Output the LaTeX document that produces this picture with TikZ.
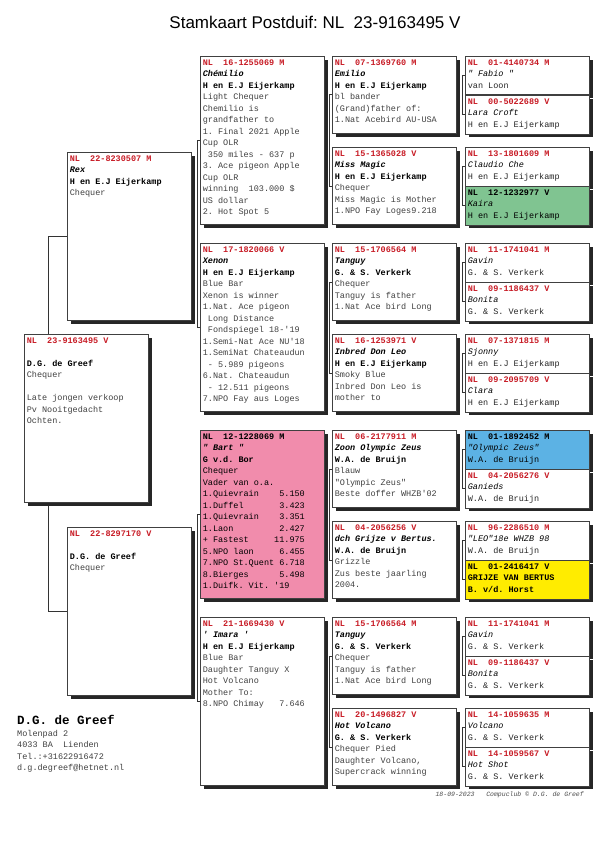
\documentclass[tikz,border=0pt]{standalone}
\usepackage{fontspec}
\setmainfont{Liberation Serif}
\setsansfont{Liberation Sans}
\setmonofont{Liberation Mono}
\usepackage{tikz}
\usetikzlibrary{positioning, shadows, backgrounds}

\definecolor{nlred}{RGB}{200,28,38}
\definecolor{bartpink}{RGB}{241,140,172}
\definecolor{kairagreen}{RGB}{128,196,145}
\definecolor{zeusblue}{RGB}{92,178,228}
\definecolor{bertusyellow}{RGB}{255,236,0}

\newcommand{\ringnr}[1]{\textbf{\color{nlred}#1}}
\newcommand{\ringnrk}[1]{\textbf{\color{black}#1}}
\newcommand{\pname}[1]{\textbf{\textit{\color{black}#1}}}
\newcommand{\cname}[1]{\textit{\color{black}#1}}
\newcommand{\breeder}[1]{\textbf{\color{black}#1}}
\frenchspacing

\begin{document}
\begin{tikzpicture}[x=1pt, y=-1pt,
  font=\ttfamily\fontsize{8.5}{11.5}\selectfont,
  card/.style={draw=black!75, line width=0.6pt, fill=white, anchor=north west,
    text width=119pt, align=flush left, inner sep=2.5pt, text height=6.5pt,
    text=black!75, execute at begin node={\spaceskip=0pt\xspaceskip=0pt},
    general shadow={fill=black!85, shadow xshift=3.5pt, shadow yshift=-3.5pt}},
  tall/.style={card, text depth=156.5pt},
  mid/.style={card, text depth=65.5pt},
  cell/.style={card, text depth=27pt, text=black!85},
  link/.style={draw=black!80, line width=0.6pt},
]
  \useasboundingbox (0,0) rectangle (600,848);

  % Title
  \node[anchor=base, font=\sffamily\fontsize{17}{20}\selectfont] (title) at (315,29)
    {Stamkaart Postduif: NL~~23-9163495 V};

  % Generation 1: the pigeon itself
  \node[tall] (sub) at (24,334) {\ringnr{NL~~23-9163495 V}\\[11.5pt]
    \breeder{D.G. de Greef}\\ Chequer\\[11.5pt]
    Late jongen verkoop\\ Pv Nooitgedacht\\ Ochten.};

  % Generation 2: parents
  \node[tall] (sire) at (67,152) {\ringnr{NL~~22-8230507 M}\\ \pname{Rex}\\
    \breeder{H en E.J Eijerkamp}\\ Chequer};
  \node[tall] (dam) at (67,527) {\ringnr{NL~~22-8297170 V}\\[11.5pt]
    \breeder{D.G. de Greef}\\ Chequer};

  % Generation 3: grandparents
  \node[tall] (ss) at (200,56) {\ringnr{NL~~16-1255069 M}\\ \pname{Chémilio}\\
    \breeder{H en E.J Eijerkamp}\\ Light Chequer\\ Chemilio is\\ grandfather to\\
    1. Final 2021 Apple\\ Cup OLR\\ ~350 miles - 637 p\\ 3. Ace pigeon Apple\\
    Cup OLR\\ winning~~103.000 \$\\ US dollar\\ 2. Hot Spot 5};
  \node[tall] (sd) at (200,243) {\ringnr{NL~~17-1820066 V}\\ \pname{Xenon}\\
    \breeder{H en E.J Eijerkamp}\\ Blue Bar\\ Xenon is winner\\ 1.Nat. Ace pigeon\\
    ~Long Distance\\ ~Fondspiegel 18-'19\\ 1.Semi-Nat Ace NU'18\\
    1.SemiNat Chateaudun\\ ~- 5.989 pigeons\\ 6.Nat. Chateaudun\\
    ~- 12.511 pigeons\\ 7.NPO Fay aus Loges};
  \node[tall, fill=bartpink, text=black] (ds) at (200,430) {\ringnrk{NL~~12-1228069 M}\\
    \pname{" Bart "}\\ \breeder{G v.d. Bor}\\ Chequer\\ Vader van o.a.\\
    1.Quievrain~~~~5.150\\ 1.Duffel~~~~~~~3.423\\ 1.Quievrain~~~~3.351\\
    1.Laon~~~~~~~~~2.427\\ + Fastest~~~~~11.975\\ 5.NPO laon~~~~~6.455\\
    7.NPO St.Quent 6.718\\ 8.Bierges~~~~~~5.498\\ 1.Duifk. Vit. '19};
  \node[tall] (dd) at (200,617) {\ringnr{NL~~21-1669430 V}\\ \pname{' Imara '}\\
    \breeder{H en E.J Eijerkamp}\\ Blue Bar\\ Daughter Tanguy X\\ Hot Volcano\\
    Mother To:\\ 8.NPO Chimay~~~7.646};

  % Generation 4: great-grandparents
  \node[mid] (sss) at (332,56) {\ringnr{NL~~07-1369760 M}\\ \pname{Emilio}\\
    \breeder{H en E.J Eijerkamp}\\ bl bander\\ (Grand)father of:\\ 1.Nat Acebird AU-USA};
  \node[mid] (ssd) at (332,147) {\ringnr{NL~~15-1365028 V}\\ \pname{Miss Magic}\\
    \breeder{H en E.J Eijerkamp}\\ Chequer\\ Miss Magic is Mother\\ 1.NPO Fay Loges9.218};
  \node[mid] (sds) at (332,243) {\ringnr{NL~~15-1706564 M}\\ \pname{Tanguy}\\
    \breeder{G. \& S. Verkerk}\\ Chequer\\ Tanguy is father\\ 1.Nat Ace bird Long};
  \node[mid] (sdd) at (332,334) {\ringnr{NL~~16-1253971 V}\\ \pname{Inbred Don Leo}\\
    \breeder{H en E.J Eijerkamp}\\ Smoky Blue\\ Inbred Don Leo is\\ mother to};
  \node[mid] (dss) at (332,430) {\ringnr{NL~~06-2177911 M}\\ \pname{Zoon Olympic Zeus}\\
    \breeder{W.A. de Bruijn}\\ Blauw\\ "Olympic Zeus"\\ Beste doffer WHZB'02};
  \node[mid] (dsd) at (332,521) {\ringnr{NL~~04-2056256 V}\\ \pname{dch Grijze v Bertus.}\\
    \breeder{W.A. de Bruijn}\\ Grizzle\\ Zus beste jaarling\\ 2004.};
  \node[mid] (dds) at (332,617) {\ringnr{NL~~15-1706564 M}\\ \pname{Tanguy}\\
    \breeder{G. \& S. Verkerk}\\ Chequer\\ Tanguy is father\\ 1.Nat Ace bird Long};
  \node[mid] (ddd) at (332,708) {\ringnr{NL~~20-1496827 V}\\ \pname{Hot Volcano}\\
    \breeder{G. \& S. Verkerk}\\ Chequer Pied\\ Daughter Volcano,\\ Supercrack winning};

  % Generation 5: great-great-grandparents
  \node[cell] (ssss) at (465,56) {\ringnr{NL~~01-4140734 M}\\ \cname{" Fabio "}\\ van Loon};
  \node[cell, below=0pt of ssss] (sssd) {\ringnr{NL~~00-5022689 V}\\ \cname{Lara Croft}\\ H en E.J Eijerkamp};
  \node[cell] (ssds) at (465,147) {\ringnr{NL~~13-1801609 M}\\ \cname{Claudio Che}\\ H en E.J Eijerkamp};
  \node[cell, below=0pt of ssds, fill=kairagreen, text=black] (ssdd) {\ringnrk{NL~~12-1232977 V}\\ \cname{Kaira}\\ H en E.J Eijerkamp};
  \node[cell] (sdss) at (465,243) {\ringnr{NL~~11-1741041 M}\\ \cname{Gavin}\\ G. \& S. Verkerk};
  \node[cell, below=0pt of sdss] (sdsd) {\ringnr{NL~~09-1186437 V}\\ \cname{Bonita}\\ G. \& S. Verkerk};
  \node[cell] (sdds) at (465,334) {\ringnr{NL~~07-1371815 M}\\ \cname{Sjonny}\\ H en E.J Eijerkamp};
  \node[cell, below=0pt of sdds] (sddd) {\ringnr{NL~~09-2095709 V}\\ \cname{Clara}\\ H en E.J Eijerkamp};
  \node[cell, fill=zeusblue, text=black] (dsss) at (465,430) {\ringnrk{NL~~01-1892452 M}\\ \cname{"Olympic Zeus"}\\ W.A. de Bruijn};
  \node[cell, below=0pt of dsss] (dssd) {\ringnr{NL~~04-2056276 V}\\ \cname{Ganieds}\\ W.A. de Bruijn};
  \node[cell] (dsds) at (465,521) {\ringnr{NL~~96-2286510 M}\\ \cname{"LEO"18e WHZB 98}\\ W.A. de Bruijn};
  \node[cell, below=0pt of dsds, fill=bertusyellow, text=black] (dsdd) {\ringnrk{NL~~01-2416417 V}\\ \textbf{GRIJZE VAN BERTUS}\\ \textbf{B. v/d. Horst}};
  \node[cell] (ddss) at (465,617) {\ringnr{NL~~11-1741041 M}\\ \cname{Gavin}\\ G. \& S. Verkerk};
  \node[cell, below=0pt of ddss] (ddsd) {\ringnr{NL~~09-1186437 V}\\ \cname{Bonita}\\ G. \& S. Verkerk};
  \node[cell] (ddds) at (465,708) {\ringnr{NL~~14-1059635 M}\\ \cname{Volcano}\\ G. \& S. Verkerk};
  \node[cell, below=0pt of ddds] (dddd) {\ringnr{NL~~14-1059567 V}\\ \cname{Hot Shot}\\ G. \& S. Verkerk};

  % Owner address and print stamp
  \node[anchor=base west, inner sep=0pt, font=\ttfamily\bfseries\fontsize{12.5}{14}\selectfont] (owner) at (17,724) {D.G. de Greef};
  \node[anchor=base west, inner sep=0pt, text width=150pt, align=flush left, text=black!75,
    execute at begin node={\spaceskip=0pt\xspaceskip=0pt}] (addr) at (17,736)
    {Molenpad 2\\ 4033 BA~~Lienden\\ Tel.:+31622916472\\ d.g.degreef@hetnet.nl};
  \node[anchor=base east, inner sep=0pt, font=\ttfamily\itshape\fontsize{6.5}{8}\selectfont, text=black!70] (stamp) at (584,796)
    {18-09-2023~~~Compuclub © D.G. de Greef};

  % Brackets joining each pair of parents
  \begin{scope}[on background layer]
    \fill[white] (0,0) rectangle (600,848);
    \draw[link] (sire.west) -- ++(-19pt,0pt) |- (dam.west);
    \draw[link] (ss.west) -- ++(-3pt,0pt) |- (sd.west);
    \draw[link] (ds.west) -- ++(-3pt,0pt) |- (dd.west);
    \foreach \a/\b in {sss/ssd, sds/sdd, dss/dsd, dds/ddd,
                       ssss/sssd, ssds/ssdd, sdss/sdsd, sdds/sddd,
                       dsss/dssd, dsds/dsdd, ddss/ddsd, ddds/dddd}
      \draw[link] (\a.west) -- ++(-3pt,0pt) |- (\b.west);
  \end{scope}
\end{tikzpicture}
\end{document}
